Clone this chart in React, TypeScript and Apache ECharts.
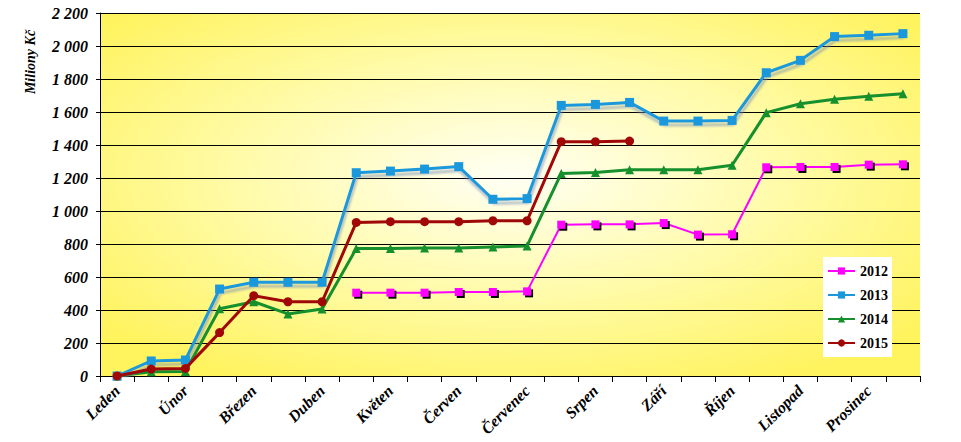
import React, { useEffect, useRef } from "react";
import * as echarts from "echarts";

const categories = [
  "Leden", "", "Únor", "", "Březen", "", "Duben", "", "Květen", "", "Červen", "",
  "Červenec", "", "Srpen", "", "Září", "", "Říjen", "", "Listopad", "", "Prosinec", "",
];

const s2012 = [null, null, null, null, null, null, null, 505, 505, 505, 509, 509, 513, 917, 919, 919, 927, 857, 859, 1265, 1267, 1267, 1281, 1283];
const s2013 = [0, 91, 97, 527, 568, 568, 568, 1232, 1242, 1254, 1269, 1071, 1075, 1640, 1646, 1658, 1545, 1545, 1549, 1838, 1913, 2057, 2065, 2075];
const s2014 = [0, 26, 27, 408, 450, 376, 406, 772, 772, 776, 776, 782, 788, 1228, 1234, 1250, 1250, 1250, 1277, 1596, 1650, 1677, 1695, 1711];
const s2015 = [0, 42, 46, 263, 487, 450, 450, 931, 935, 935, 935, 941, 941, 1420, 1420, 1424, null, null, null, null, null, null, null, null];

const seriesNames = ["2012", "2013", "2014", "2015"];
const yAxisTitle = "Miliony Kč";

const fmtY = (v: number) =>
  v >= 1000 ? Math.floor(v / 1000) + " " + String(v % 1000).padStart(3, "0") : String(v);

export default function App() {
  const ref = useRef<HTMLDivElement>(null);
  useEffect(() => {
    if (!ref.current) return;
    const chart = echarts.init(ref.current, null, { renderer: "svg" });
    const serif = "'Liberation Serif', 'DejaVu Serif', serif";
    chart.setOption({
      animation: false,
      backgroundColor: "#ffffff",
      grid: {
        left: 100,
        right: 41,
        top: 13,
        bottom: 66,
        show: true,
        borderWidth: 0,
        backgroundColor: new echarts.graphic.RadialGradient(0.5, 0.45, 0.65, [
          { offset: 0, color: "#FFFFF4" },
          { offset: 0.5, color: "#FFFBAA" },
          { offset: 1, color: "#FFF35E" },
        ]),
      },
      graphic: [
        {
          type: "text",
          x: 30,
          y: 62,
          rotation: Math.PI / 2,
          style: {
            text: yAxisTitle,
            font: `italic bold 14px ${serif}`,
            fill: "#000",
            align: "center",
            verticalAlign: "middle",
          },
        },
      ],
      legend: {
        data: seriesNames,
        orient: "vertical",
        left: 823,
        top: 257,
        backgroundColor: "#ffffff",
        padding: [7, 4, 7, 4],
        itemGap: 10,
        itemWidth: 27,
        itemHeight: 9,
        textStyle: { fontFamily: serif, fontWeight: "bold", fontSize: 14, color: "#000" },
      },
      xAxis: {
        type: "category",
        data: categories,
        boundaryGap: true,
        axisLine: { lineStyle: { color: "#000", width: 1 } },
        axisTick: { show: true, interval: 0, length: 6, lineStyle: { color: "#000" } },
        axisLabel: {
          interval: 0,
          rotate: 45,
          margin: 12,
          fontFamily: serif,
          fontStyle: "italic",
          fontWeight: "bold",
          fontSize: 16,
          color: "#000",
        },
        splitLine: { show: false },
      },
      yAxis: {
        type: "value",
        min: 0,
        max: 2200,
        interval: 200,
        axisLine: { show: true, lineStyle: { color: "#000", width: 1 } },
        axisTick: { show: true, length: 4, lineStyle: { color: "#000" } },
        axisLabel: {
          formatter: fmtY,
          margin: 12,
          fontFamily: serif,
          fontStyle: "italic",
          fontWeight: "bold",
          fontSize: 16,
          color: "#000",
          showMaxLabel: true,
        },
        splitLine: { show: true, lineStyle: { color: "#000", width: 1 } },
      },
      series: [
        {
          name: "2012",
          type: "line",
          data: s2012,
          symbol: "rect",
          symbolSize: 8,
          color: "#FF00FF",
          lineStyle: { width: 2, color: "#FF00FF" },
          itemStyle: {
            color: "#FF00FF",
            shadowColor: "#000",
            shadowOffsetX: 2,
            shadowOffsetY: 2,
            shadowBlur: 0,
          },
          z: 5,
        },
        {
          name: "2013",
          type: "line",
          data: s2013,
          symbol: "rect",
          symbolSize: 9,
          color: "#1B98DC",
          lineStyle: {
            width: 3,
            color: "#1B98DC",
            shadowColor: "rgba(120,140,180,0.55)",
            shadowOffsetX: 1,
            shadowOffsetY: 4,
            shadowBlur: 2,
          },
          itemStyle: { color: "#1B98DC" },
          z: 4,
        },
        {
          name: "2014",
          type: "line",
          data: s2014,
          symbol: "triangle",
          symbolSize: 9,
          color: "#15902C",
          lineStyle: { width: 3, color: "#15902C" },
          itemStyle: { color: "#15902C" },
          z: 3,
        },
        {
          name: "2015",
          type: "line",
          data: s2015,
          symbol: "circle",
          symbolSize: 9,
          color: "#A00808",
          lineStyle: { width: 3, color: "#A00808" },
          itemStyle: { color: "#A00808" },
          z: 6,
        },
      ],
    });
    return () => chart.dispose();
  }, []);
  return (
    <div
      ref={ref}
      style={{ position: "fixed", left: 0, top: 0, width: 961, height: 442 }}
    />
  );
}
